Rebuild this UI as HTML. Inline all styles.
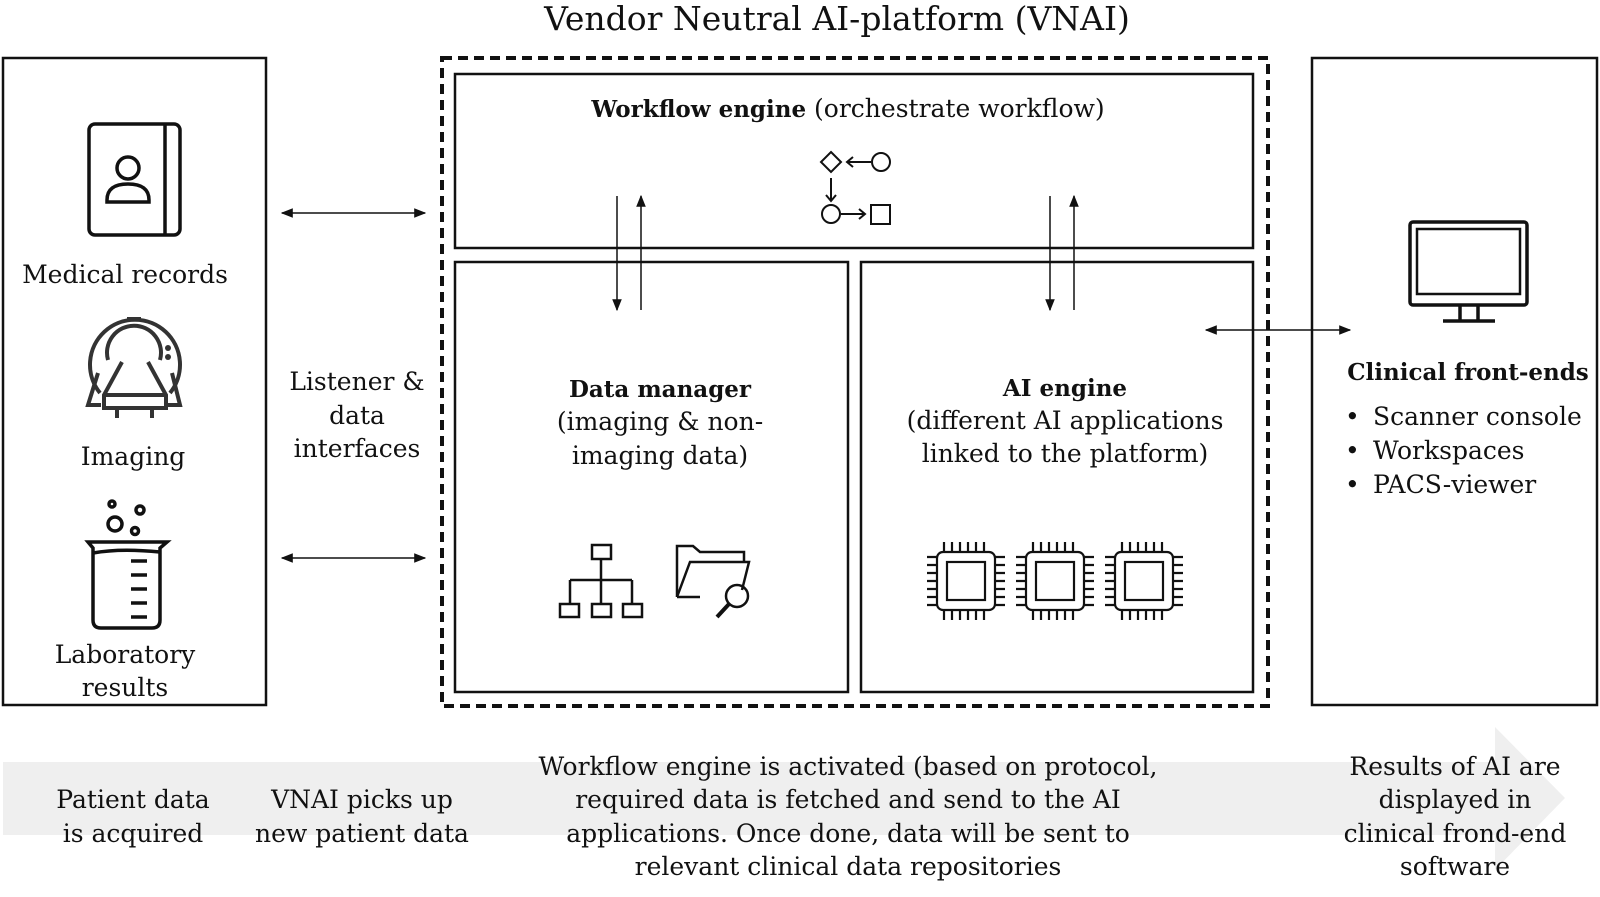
<!DOCTYPE html>
<html><head><style>
body{margin:0;background:#fff;}
svg text{font-family:"DejaVu Serif","Liberation Serif",serif;fill:#111;}
</style></head><body>
<svg width="1600" height="892" viewBox="0 0 1600 892" xmlns="http://www.w3.org/2000/svg">
<defs>
<marker id="a" viewBox="0 0 10 10" refX="9" refY="5" markerWidth="8" markerHeight="8" orient="auto-start-reverse"><path d="M0,1 L10,5 L0,9 z" fill="#111"/></marker>
</defs>
<polygon points="3,762 1495,762 1495,727 1565,798 1495,870 1495,835 3,835" fill="#efefef"/>
<text x="837" y="30" font-size="33" text-anchor="middle">Vendor Neutral AI-platform (VNAI)</text>
<rect x="3" y="58" width="263" height="647" fill="none" stroke="#111" stroke-width="2.5"/>
<rect x="89" y="124" width="91" height="111" rx="6" fill="none" stroke="#111" stroke-width="3.5"/>
<line x1="165" y1="124" x2="165" y2="235" stroke="#111" stroke-width="3.5"/>
<circle cx="128" cy="168" r="11" fill="none" stroke="#111" stroke-width="3.5"/>
<path d="M107,200 Q107,184 128,184 Q149,184 149,200 L149,202 L107,202 z" fill="none" stroke="#111" stroke-width="3.5"/>
<text x="125" y="283" font-size="25" text-anchor="middle">Medical records</text>
<g fill="none" stroke="#333" stroke-width="4">
<path d="M100,393 A45,45 0 1 1 170,393"/>
<path d="M108,360 A27,27 0 1 1 160,360"/>
<line x1="127" y1="319" x2="141" y2="319"/>
<path d="M98,373 L88,405 L101,405"/><path d="M172,373 L180,405 L167,405"/>
<path d="M122,362 L104,395 L104,408 L166,408 L166,395 L148,362"/>
<line x1="106" y1="395" x2="164" y2="395"/>
<line x1="117" y1="408" x2="117" y2="418"/><line x1="152" y1="408" x2="152" y2="418"/>
</g>
<circle cx="168" cy="348" r="3" fill="#333"/><circle cx="168" cy="357" r="3" fill="#333"/>
<text x="133" y="465" font-size="25" text-anchor="middle">Imaging</text>
<g fill="none" stroke="#111" stroke-width="3.5">
<circle cx="112" cy="504" r="3"/><circle cx="140" cy="510" r="4"/><circle cx="115" cy="524" r="7"/><circle cx="135" cy="531" r="3.5"/>
<path d="M88,542 L167,542 L160,548 L160,620 Q160,628 152,628 L101,628 Q93,628 93,620 L93,548 z"/>
<path d="M93,553 Q120,548 160,552"/>
<line x1="131" y1="561" x2="147" y2="561"/><line x1="131" y1="575" x2="147" y2="575"/><line x1="131" y1="589" x2="147" y2="589"/><line x1="131" y1="603" x2="147" y2="603"/><line x1="131" y1="617" x2="147" y2="617"/>
</g>
<text x="125" y="663" font-size="25" text-anchor="middle">Laboratory</text>
<text x="125" y="696" font-size="25" text-anchor="middle">results</text>
<line x1="282" y1="213" x2="425" y2="213" stroke="#111" stroke-width="1.5" marker-start="url(#a)" marker-end="url(#a)"/>
<line x1="282" y1="558" x2="425" y2="558" stroke="#111" stroke-width="1.5" marker-start="url(#a)" marker-end="url(#a)"/>
<text x="357" y="390" font-size="25" text-anchor="middle">Listener &amp;</text>
<text x="357" y="424" font-size="25" text-anchor="middle">data</text>
<text x="357" y="457" font-size="25" text-anchor="middle">interfaces</text>
<rect x="442" y="58" width="826" height="648" fill="none" stroke="#111" stroke-width="4" stroke-dasharray="10,6"/>
<rect x="455" y="74" width="798" height="174" fill="none" stroke="#111" stroke-width="2.5"/>
<text x="848" y="117" font-size="25" text-anchor="middle"><tspan font-weight="bold" font-size="23">Workflow engine</tspan> (orchestrate workflow)</text>
<g fill="none" stroke="#111" stroke-width="2">
<polygon points="831,152 841,162 831,172 821,162"/>
<circle cx="881" cy="162" r="9"/>
<line x1="847" y1="162" x2="871" y2="162"/><path d="M853,157 L847,162 L853,167"/>
<line x1="831" y1="178" x2="831" y2="201"/><path d="M826,195 L831,201 L836,195"/>
<circle cx="831" cy="214" r="9"/>
<line x1="841" y1="214" x2="865" y2="214"/><path d="M859,209 L865,214 L859,219"/>
<rect x="871" y="205" width="19" height="19"/>
</g>
<rect x="455" y="262" width="393" height="430" fill="none" stroke="#111" stroke-width="2.5"/>
<rect x="861" y="262" width="392" height="430" fill="none" stroke="#111" stroke-width="2.5"/>
<line x1="617" y1="196" x2="617" y2="310" stroke="#111" stroke-width="1.5" marker-end="url(#a)"/>
<line x1="641" y1="310" x2="641" y2="196" stroke="#111" stroke-width="1.5" marker-end="url(#a)"/>
<line x1="1050" y1="196" x2="1050" y2="310" stroke="#111" stroke-width="1.5" marker-end="url(#a)"/>
<line x1="1074" y1="310" x2="1074" y2="196" stroke="#111" stroke-width="1.5" marker-end="url(#a)"/>
<line x1="1206" y1="330" x2="1350" y2="330" stroke="#111" stroke-width="1.5" marker-start="url(#a)" marker-end="url(#a)"/>
<text x="660" y="397" font-size="23" text-anchor="middle" font-weight="bold">Data manager</text>
<text x="660" y="430" font-size="25" text-anchor="middle">(imaging &amp; non-</text>
<text x="660" y="464" font-size="25" text-anchor="middle">imaging data)</text>
<text x="1065" y="396" font-size="23" text-anchor="middle" font-weight="bold">AI engine</text>
<text x="1065" y="429" font-size="25" text-anchor="middle">(different AI applications</text>
<text x="1065" y="462" font-size="25" text-anchor="middle">linked to the platform)</text>
<g fill="none" stroke="#111" stroke-width="2.5">
<rect x="592" y="545" width="19" height="14"/>
<line x1="601" y1="559" x2="601" y2="604"/>
<line x1="570" y1="580" x2="632" y2="580"/>
<line x1="570" y1="580" x2="570" y2="604"/><line x1="632" y1="580" x2="632" y2="604"/>
<rect x="560" y="604" width="19" height="13"/><rect x="592" y="604" width="19" height="13"/><rect x="623" y="604" width="19" height="13"/>
<path d="M677,597 L677,546 L693,546 L700,552 L744,552 L744,562"/>
<path d="M677,597 L690,562 L749,562 L742,590"/>
<line x1="677" y1="597" x2="700" y2="597"/>
<circle cx="737" cy="596" r="11"/>
<line x1="729" y1="604" x2="717" y2="617" stroke-width="4"/>
</g>
<g fill="none" stroke="#111" stroke-width="2.2">
<g id="chip">
<rect x="937" y="552" width="58" height="58" rx="6"/>
<rect x="947" y="562" width="38" height="38"/>
<path d="M944,542v10M952,542v10M960,542v10M968,542v10M976,542v10M984,542v10 M944,610v10M952,610v10M960,610v10M968,610v10M976,610v10M984,610v10 M927,557h10M927,565h10M927,573h10M927,581h10M927,589h10M927,597h10M927,605h10 M995,557h10M995,565h10M995,573h10M995,581h10M995,589h10M995,597h10M995,605h10"/>
</g>
<use href="#chip" x="89"/>
<use href="#chip" x="178"/>
</g>
<rect x="1312" y="58" width="285" height="647" fill="none" stroke="#111" stroke-width="2.5"/>
<g fill="none" stroke="#111" stroke-width="3.5">
<rect x="1410" y="222" width="117" height="83" rx="3"/>
<rect x="1417" y="229" width="103" height="65" stroke-width="2.5"/>
<line x1="1460" y1="305" x2="1460" y2="320"/><line x1="1478" y1="305" x2="1478" y2="320"/>
<line x1="1443" y1="321" x2="1495" y2="321"/>
</g>
<text x="1468" y="380" font-size="23" text-anchor="middle" font-weight="bold">Clinical front-ends</text>
<text x="1345" y="425" font-size="25">•</text><text x="1373" y="425" font-size="25">Scanner console</text>
<text x="1345" y="459" font-size="25">•</text><text x="1373" y="459" font-size="25">Workspaces</text>
<text x="1345" y="493" font-size="25">•</text><text x="1373" y="493" font-size="25">PACS-viewer</text>
<g font-size="25" text-anchor="middle">
<text x="133" y="808">Patient data</text><text x="133" y="842">is acquired</text>
<text x="362" y="808">VNAI picks up</text><text x="362" y="842">new patient data</text>
<text x="848" y="775">Workflow engine is activated (based on protocol,</text>
<text x="848" y="808">required data is fetched and send to the AI</text>
<text x="848" y="842">applications. Once done, data will be sent to</text>
<text x="848" y="875">relevant clinical data repositories</text>
<text x="1455" y="775">Results of AI are</text>
<text x="1455" y="808">displayed in</text>
<text x="1455" y="842">clinical frond-end</text>
<text x="1455" y="875">software</text>
</g>
</svg>
</body></html>
